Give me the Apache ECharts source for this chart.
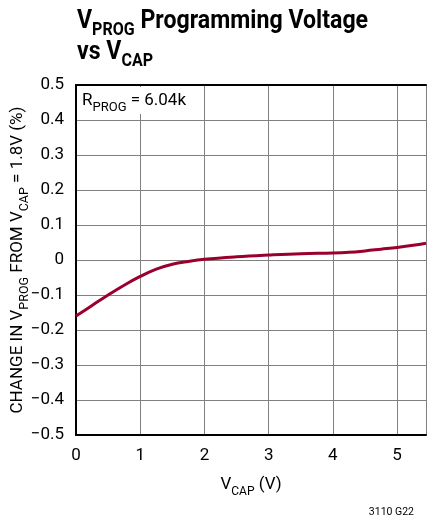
<!DOCTYPE html>
<html><head><meta charset="utf-8">
<script src="https://cdn.jsdelivr.net/npm/echarts@6/dist/echarts.min.js"></script>
<style>html,body{margin:0;padding:0;background:#fff}#c{width:427px;height:521px}</style>
</head><body><div id="c"></div>
<script>
const vcap = [0, 0.25, 0.5, 0.75, 1, 1.25, 1.5, 1.75, 2, 2.5, 3, 3.5, 4, 4.25, 4.5, 4.75, 5, 5.25, 5.45];
const change = [-0.16, -0.13, -0.10, -0.072, -0.047, -0.026, -0.012, -0.004, 0.002, 0.009, 0.014, 0.018, 0.02, 0.022, 0.026, 0.031, 0.036, 0.042, 0.048];
const xTicks = [0, 1, 2, 3, 4, 5];
const yTicks = [-0.5, -0.4, -0.3, -0.2, -0.1, 0, 0.1, 0.2, 0.3, 0.4, 0.5];

const FONT = 'Roboto, "Liberation Sans", sans-serif';
const chart = echarts.init(document.getElementById('c'), null, {renderer: 'canvas'});
const fmtY = v => {
  const r = Math.round(v * 10) / 10;
  if (!yTicks.includes(r)) return '';
  if (r === 0) return '0';
  return (r < 0 ? '\u2212' : '') + Math.abs(r).toFixed(1);
};
chart.setOption({
  animation: false,
  backgroundColor: '#fff',
  title: {
    text: '3110 G22',
    right: 8, top: 502,
    textStyle: {fontFamily: FONT, fontSize: 10.5, fontWeight: 'normal', color: '#000'}
  },
  graphic: [{
    type: 'text', left: 77, top: 8, z: 60, scaleX: 0.89,
    style: {
      text: '{v|V}{s|PROG}{v| Programming Voltage}\n{v|vs V}{s|CAP}',
      rich: {
        v: {fontFamily: FONT, fontWeight: 'bold', fontSize: 26, fill: '#000', lineHeight: 31, verticalAlign: 'bottom'},
        s: {fontFamily: FONT, fontWeight: 'bold', fontSize: 18, fill: '#000', lineHeight: 31, verticalAlign: 'bottom', padding: [0, 0, -5, 0]}
      }
    }
  }, {
    type: 'rect', left: 78, top: 87, z: 50,
    shape: {width: 117, height: 27},
    style: {fill: '#fff'}
  }, {
    type: 'text', left: 82, top: 92, z: 51,
    style: {
      text: '{m|R}{s|PROG}{m| = 6.04k}',
      rich: {
        m: {fontFamily: FONT, fontSize: 17, fill: '#000', lineHeight: 20, verticalAlign: 'bottom'},
        s: {fontFamily: FONT, fontSize: 13, fill: '#000', lineHeight: 20, verticalAlign: 'bottom', padding: [0, 0, -5, 0]}
      }
    }
  }],
  grid: {left: 76, right: 1, top: 85, bottom: 86, outerBoundsMode: 'none', containLabel: false},
  xAxis: [{
    type: 'value', min: 0, max: 5.45, interval: 1,
    axisLine: {show: true, onZero: false, lineStyle: {color: '#000', width: 2}},
    axisTick: {show: false},
    splitLine: {show: true, lineStyle: {color: '#808080', width: 1}},
    axisLabel: {
      fontFamily: FONT, fontSize: 17, color: '#000', margin: 12, showMaxLabel: false,
      formatter: v => xTicks.includes(Math.round(v * 100) / 100) ? String(Math.round(v)) : ''
    },
    name: '{v|V}{s|CAP}{v| (V)}',
    nameLocation: 'middle', nameGap: 38, nameMoveOverlap: false,
    nameTextStyle: {
      rich: {
        v: {fontFamily: FONT, fontSize: 17, color: '#000', lineHeight: 20, verticalAlign: 'bottom'},
        s: {fontFamily: FONT, fontSize: 12, color: '#000', lineHeight: 20, verticalAlign: 'bottom', padding: [0, 0, -5, 0]}
      }
    }
  }, {
    type: 'value', min: 0, max: 5.45, position: 'top',
    axisLine: {show: true, onZero: false, lineStyle: {color: '#000', width: 2}},
    axisTick: {show: false}, axisLabel: {show: false}, splitLine: {show: false}
  }],
  yAxis: {
    type: 'value', min: -0.5, max: 0.5, interval: 0.1,
    axisLine: {show: true, onZero: false, lineStyle: {color: '#000', width: 2}},
    axisTick: {show: false},
    splitLine: {show: true, lineStyle: {color: '#808080', width: 1}},
    axisLabel: {fontFamily: FONT, fontSize: 17, color: '#000', margin: 12, formatter: fmtY},
    name: '{v|CHANGE IN V}{s|PROG}{v| FROM V}{s|CAP}{v| = 1.8V (%)}',
    nameLocation: 'middle', nameGap: 50, nameRotate: 90, nameMoveOverlap: false,
    nameTextStyle: {
      rich: {
        v: {fontFamily: FONT, fontSize: 17, color: '#000', lineHeight: 20, verticalAlign: 'bottom'},
        s: {fontFamily: FONT, fontSize: 12.5, color: '#000', lineHeight: 20, verticalAlign: 'bottom', padding: [0, 0, -5, 0]}
      }
    }
  },
  series: [{
    type: 'line',
    data: vcap.map((x, i) => [x, change[i]]),
    smooth: 0.4,
    showSymbol: false,
    lineStyle: {color: '#99002e', width: 3},
    z: 10
  }]
});
</script></body></html>
